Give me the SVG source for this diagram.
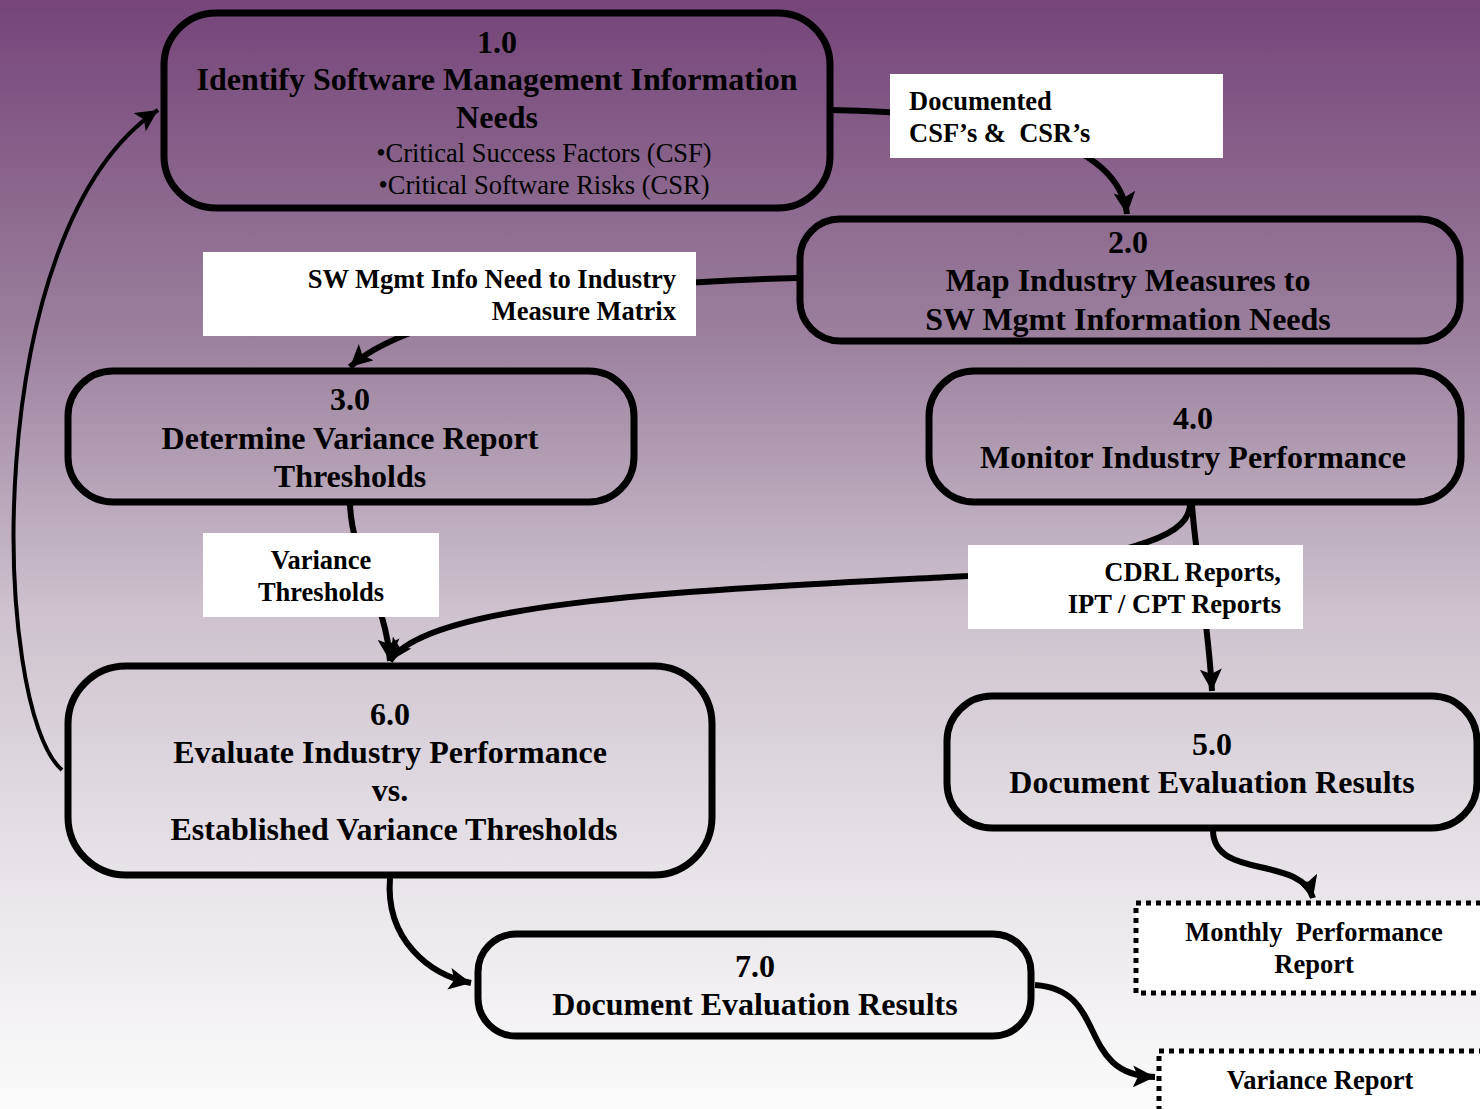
<svg xmlns="http://www.w3.org/2000/svg" width="1480" height="1109" viewBox="0 0 1480 1109">
<defs>
<linearGradient id="bg" x1="0" y1="0" x2="0" y2="1">
<stop offset="0" stop-color="#754579"/>
<stop offset="0.3" stop-color="#9b7f9d"/>
<stop offset="0.55" stop-color="#cdc2cd"/>
<stop offset="0.8" stop-color="#e9e5ea"/>
<stop offset="1" stop-color="#fbfbfb"/>
</linearGradient>
<marker id="ah" markerUnits="userSpaceOnUse" markerWidth="24" markerHeight="22" refX="22" refY="11" orient="auto">
<path d="M0,0 L22,11 L0,22 L5,11 Z" fill="#000"/>
</marker>
<style>
.node{fill:none;stroke:#000;stroke-width:7}
.doc{fill:#fff;stroke:#000;stroke-width:5;stroke-dasharray:5 5}
.lbl{fill:#fff;stroke:none}
text{font-family:'Liberation Serif','Times New Roman',Times,serif}
.t{font-weight:bold;font-size:32px;fill:#000;text-anchor:middle}
.s{font-size:26.5px;fill:#000;text-anchor:middle}
.l{font-weight:bold;font-size:26.5px;fill:#000}
.c{fill:none;stroke:#000;stroke-width:6;marker-end:url(#ah)}
.thin{fill:none;stroke:#000;stroke-width:4;marker-end:url(#ah)}
</style>
</defs>
<rect x="0" y="0" width="1480" height="1109" fill="url(#bg)"/>

<g id="connectors">
<path class="c" d="M830,110 C1000,113 1118,140 1127,214"/>
<path class="c" d="M798,278 C600,282 410,312 350,367"/>
<path class="c" d="M350,504 C352,560 386,600 390,661"/>
<path class="c" d="M1190,505 C1188,545 1100,556 968,576 C700,590 430,600 390,661"/>
<path class="c" d="M1192,505 C1196,560 1208,620 1212,691"/>
<path class="thin" d="M62,770 C-8,710 -22,230 158,110"/>
<path class="c" d="M390,878 C385,940 430,975 471,983"/>
<path class="c" d="M1213,830 C1213,880 1300,855 1313,898"/>
<path class="c" d="M1035,985 C1110,990 1075,1075 1155,1077"/>
</g>

<g id="label-csf">
<rect class="lbl" x="890" y="74" width="333" height="84"/>
<text class="l" x="909" y="110">Documented</text>
<text class="l" x="909" y="142" xml:space="preserve">CSF’s &amp;  CSR’s</text>
</g>
<g id="label-matrix">
<rect class="lbl" x="203" y="252" width="493" height="84"/>
<text class="l" x="676" y="288" text-anchor="end">SW Mgmt Info Need to Industry</text>
<text class="l" x="676" y="320" text-anchor="end">Measure Matrix</text>
</g>
<g id="label-variance">
<rect class="lbl" x="203" y="533" width="236" height="84"/>
<text class="l" x="321" y="569" text-anchor="middle">Variance</text>
<text class="l" x="321" y="601" text-anchor="middle">Thresholds</text>
</g>
<g id="label-cdrl">
<rect class="lbl" x="968" y="545" width="335" height="84"/>
<text class="l" x="1281" y="581" text-anchor="end">CDRL Reports,</text>
<text class="l" x="1281" y="613" text-anchor="end">IPT / CPT Reports</text>
</g>

<g id="node-1">
<rect class="node" x="164" y="13" width="666" height="195" rx="52"/>
<text class="t" x="497" y="53">1.0</text>
<text class="t" x="497" y="90">Identify Software Management Information</text>
<text class="t" x="497" y="128">Needs</text>
<text class="s" x="544" y="162">•Critical Success Factors (CSF)</text>
<text class="s" x="544" y="194">•Critical Software Risks (CSR)</text>
</g>
<g id="node-2">
<rect class="node" x="800" y="219" width="660" height="122" rx="40"/>
<text class="t" x="1128" y="253">2.0</text>
<text class="t" x="1128" y="291">Map Industry Measures to</text>
<text class="t" x="1128" y="330">SW Mgmt Information Needs</text>
</g>
<g id="node-3">
<rect class="node" x="68" y="371" width="566" height="131" rx="45"/>
<text class="t" x="350" y="410">3.0</text>
<text class="t" x="350" y="449">Determine Variance Report</text>
<text class="t" x="350" y="487">Thresholds</text>
</g>
<g id="node-4">
<rect class="node" x="929" y="371" width="532" height="131" rx="45"/>
<text class="t" x="1193" y="429">4.0</text>
<text class="t" x="1193" y="468">Monitor Industry Performance</text>
</g>
<g id="node-6">
<rect class="node" x="68" y="666" width="644" height="209" rx="58"/>
<text class="t" x="390" y="725">6.0</text>
<text class="t" x="390" y="763">Evaluate Industry Performance</text>
<text class="t" x="390" y="801">vs.</text>
<text class="t" x="394" y="840">Established Variance Thresholds</text>
</g>
<g id="node-5">
<rect class="node" x="947" y="696" width="530" height="132" rx="45"/>
<text class="t" x="1212" y="755">5.0</text>
<text class="t" x="1212" y="793">Document Evaluation Results</text>
</g>
<g id="node-7">
<rect class="node" x="478" y="934" width="553" height="102" rx="38"/>
<text class="t" x="755" y="977">7.0</text>
<text class="t" x="755" y="1015">Document Evaluation Results</text>
</g>
<g id="doc-monthly">
<rect class="doc" x="1136" y="903" width="350" height="90"/>
<text class="l" x="1314" y="941" text-anchor="middle" xml:space="preserve">Monthly  Performance</text>
<text class="l" x="1314" y="973" text-anchor="middle">Report</text>
</g>
<g id="doc-variance">
<rect class="doc" x="1159" y="1051" width="330" height="70"/>
<text class="l" x="1320" y="1089" text-anchor="middle">Variance Report</text>
</g>
</svg>
